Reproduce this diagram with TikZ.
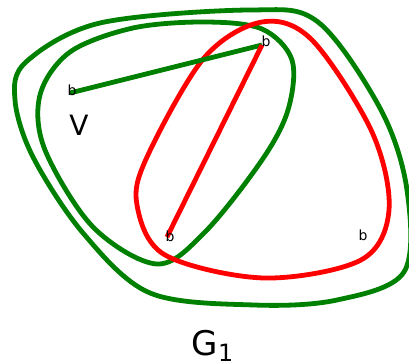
\documentclass[tikz,border=0pt]{standalone}
\usepackage{fontspec}
\setmainfont{DejaVu Sans}
\definecolor{dgreen}{RGB}{0,128,0}
\tikzset{
  setline/.style={line width=2.4pt,dgreen},
  redline/.style={line width=2.4pt,red},
  vlabel/.style={font=\fontsize{7}{8}\selectfont,inner sep=0pt}
}

\begin{document}
\begin{tikzpicture}[x=0.5pt,y=-0.5pt]
  \useasboundingbox (0,0) rectangle (409,364);
  % vertices
  \coordinate (v) at (70,93);
  \coordinate (top) at (262,45);
  \coordinate (bot) at (167,237);
  \coordinate (rgt) at (363,235);
  % outer set
  \draw[setline] plot[smooth cycle,tension=0.55] coordinates {(250,10) (318,22) (381,110) (407,190) (404,272) (337,300) (254,305) (150,293) (83,233) (33,157) (15,100) (26,62) (100,23)};
  % inner set
  \draw[setline] plot[smooth cycle,tension=0.55] coordinates {(205,22) (133,28) (70,52) (40,95) (45,150) (93,227) (157,264) (205,232) (262,160) (288,110) (292,60) (262,29)};
  % red set
  \draw[redline] plot[smooth cycle,tension=0.55] coordinates {(262,22) (204,58) (147,157) (137,205) (165,255) (264,278) (361,260) (389,210) (372,132) (312,40)};
  % edges
  \draw[setline] (v) -- (top);
  \draw[redline] (top) -- (bot);
  % labels
  \node[vlabel] (lv) at (72,90) {b};
  \node[vlabel] (ltop) at (266,41) {b};
  \node[vlabel] (lbot) at (170,236) {b};
  \node[vlabel] (lrgt) at (rgt) {b};
  \node[font=\fontsize{14}{16}\selectfont] (nameV) at (79,125) {V};
  \node[font=\fontsize{17}{20}\selectfont] (name) at (213,346) {G\textsubscript{1}};
\end{tikzpicture}
\end{document}
